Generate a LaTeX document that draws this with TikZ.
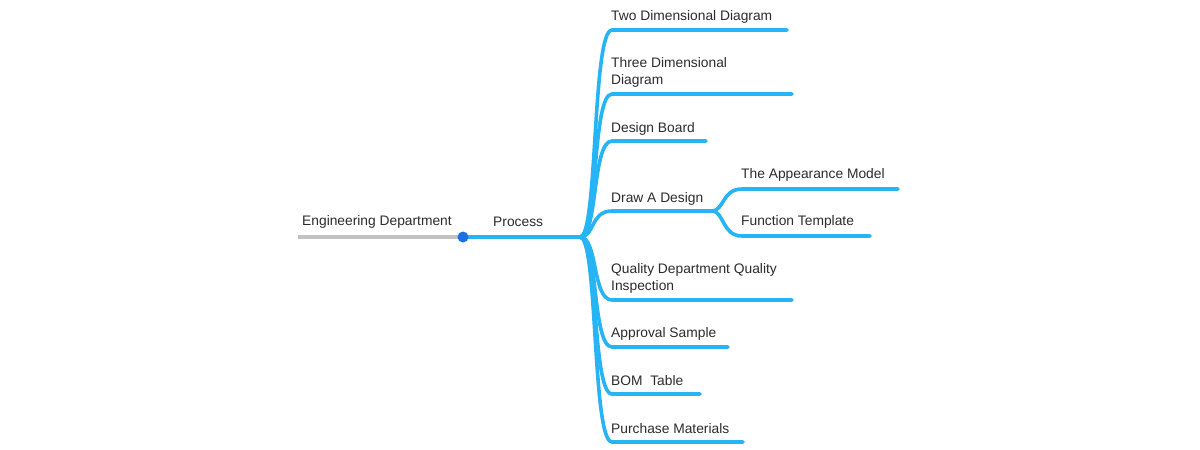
\documentclass[tikz,border=0pt]{standalone}
\usepackage{fontspec}
\setmainfont{Liberation Sans}
\definecolor{branch}{HTML}{26B4F4}
\definecolor{rootline}{HTML}{C2C2C2}
\definecolor{dotblue}{HTML}{1C6FE3}
\definecolor{txt}{HTML}{2B2B2B}
\begin{document}
\begin{tikzpicture}[x=1pt,y=-1pt,
  lbl/.style={anchor=west,inner sep=0pt,text=txt,font=\fontsize{13.8}{17}\selectfont,align=left},
  wire/.style={draw=branch,line width=3.6pt,line cap=round},
  rootwire/.style={draw=rootline,line width=3.6pt},
]
\useasboundingbox (0,0) rectangle (1200,450);
% key coordinates
\coordinate (rootstart) at (298,237);
\coordinate (dot) at (463,237);
\coordinate (hub) at (580,237);
\coordinate (sub) at (712,211);
% labels
\node[lbl] (eng) at (302,222) {Engineering Department};
\node[lbl] (proc) at (493,222) {Process};
\node[lbl] (two) at (611,17) {Two Dimensional Diagram};
\node[lbl] (three) at (611,72) {Three Dimensional\\Diagram};
\node[lbl] (board) at (611,129) {Design Board};
\node[lbl] (draw) at (611,199) {Draw A Design};
\node[lbl] (appear) at (741,175) {The Appearance Model};
\node[lbl] (func) at (741,222) {Function Template};
\node[lbl] (qual) at (611,278) {Quality Department Quality\\Inspection};
\node[lbl] (appr) at (611,334) {Approval Sample};
\node[lbl] (bom) at (611,381) {BOM\ \ Table};
\node[lbl] (purch) at (611,429) {Purchase Materials};
% branch end coordinates
\coordinate (twoE) at (787,30);
\coordinate (threeE) at (792,94);
\coordinate (boardE) at (706,141);
\coordinate (appearE) at (898,189);
\coordinate (funcE) at (870,236);
\coordinate (qualE) at (792,300);
\coordinate (apprE) at (728,347);
\coordinate (bomE) at (700,394);
\coordinate (purchE) at (743,442);
% root line
\draw[rootwire] (rootstart) -- (dot);
\draw[wire] (dot) -- (hub);
% branches
\foreach \e/\y in {twoE/30,threeE/94,boardE/141,qualE/300,apprE/347,bomE/394,purchE/442}{
  \draw[wire] (hub) .. controls (598,237) and (592,\y) .. (612,\y) -- (\e);
}
\draw[wire] (hub) .. controls (595,237) and (590,211) .. (612,211) -- (sub);
\draw[wire] (sub) .. controls (724,211) and (722,189) .. (742,189) -- (appearE);
\draw[wire] (sub) .. controls (724,211) and (722,236) .. (742,236) -- (funcE);
\fill[dotblue] (dot) circle (5.5);
\end{tikzpicture}
\end{document}
